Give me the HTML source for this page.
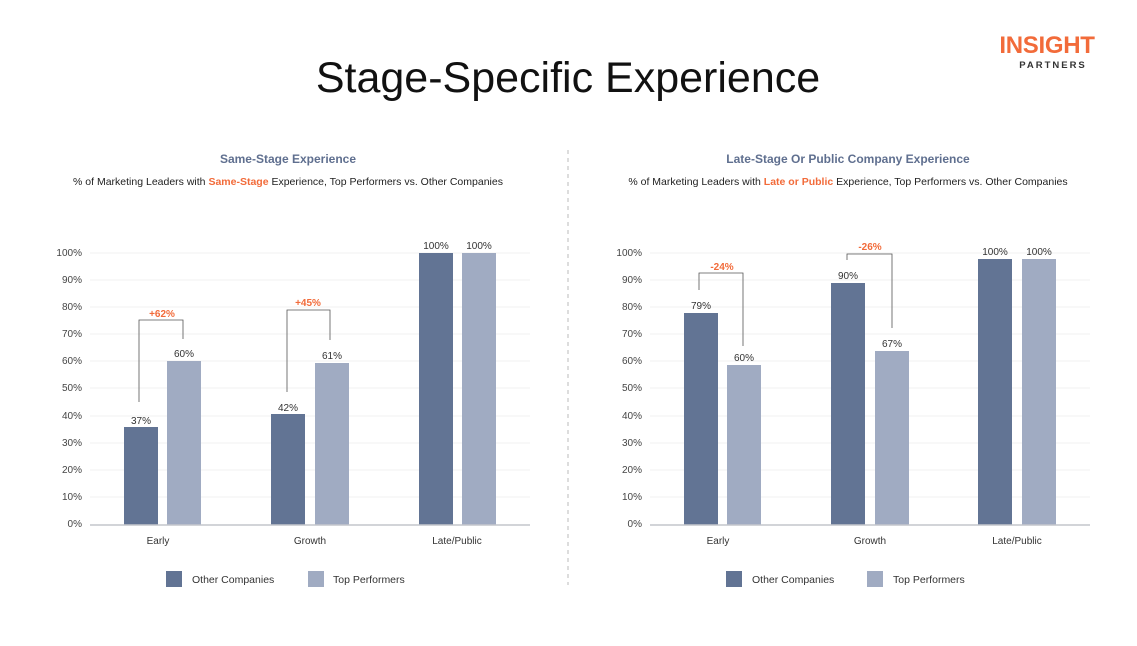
<!DOCTYPE html>
<html><head><style>
body{margin:0;background:#fff;font-family:"Liberation Sans",sans-serif;}
</style></head><body>
<svg width="1137" height="641" xmlns="http://www.w3.org/2000/svg" font-family="Liberation Sans, sans-serif">
<rect width="1137" height="641" fill="#fff"/>
<text x="568" y="92" font-size="43" text-anchor="middle" fill="#111">Stage-Specific Experience</text>
<text x="1047" y="53" font-size="24" font-weight="bold" text-anchor="middle" fill="#f26b3a" letter-spacing="-0.3">INSIGHT</text>
<text x="1053" y="68" font-size="9.5" font-weight="bold" text-anchor="middle" fill="#333" letter-spacing="2">PARTNERS</text>
<line x1="568" y1="150" x2="568" y2="585" stroke="#bbb" stroke-dasharray="4,4"/>

<g font-size="12" text-anchor="middle">
<text x="288" y="163" font-weight="bold" fill="#5f6f8f">Same-Stage Experience</text>
<text x="848" y="163" font-weight="bold" fill="#5f6f8f">Late-Stage Or Public Company Experience</text>
</g>
<g font-size="10.5" text-anchor="middle" fill="#222">
<text x="288" y="185">% of Marketing Leaders with <tspan fill="#f26b3a" font-weight="bold">Same-Stage</tspan> Experience, Top Performers vs. Other Companies</text>
<text x="848" y="185">% of Marketing Leaders with <tspan fill="#f26b3a" font-weight="bold">Late or Public</tspan> Experience, Top Performers vs. Other Companies</text>
</g>

<g stroke="#f2f2f2">
<line x1="90" x2="530" y1="253" y2="253"/><line x1="90" x2="530" y1="280" y2="280"/><line x1="90" x2="530" y1="307" y2="307"/><line x1="90" x2="530" y1="334" y2="334"/><line x1="90" x2="530" y1="361" y2="361"/><line x1="90" x2="530" y1="388" y2="388"/><line x1="90" x2="530" y1="416" y2="416"/><line x1="90" x2="530" y1="443" y2="443"/><line x1="90" x2="530" y1="470" y2="470"/><line x1="90" x2="530" y1="497" y2="497"/>
<line x1="650" x2="1090" y1="253" y2="253"/><line x1="650" x2="1090" y1="280" y2="280"/><line x1="650" x2="1090" y1="307" y2="307"/><line x1="650" x2="1090" y1="334" y2="334"/><line x1="650" x2="1090" y1="361" y2="361"/><line x1="650" x2="1090" y1="388" y2="388"/><line x1="650" x2="1090" y1="416" y2="416"/><line x1="650" x2="1090" y1="443" y2="443"/><line x1="650" x2="1090" y1="470" y2="470"/><line x1="650" x2="1090" y1="497" y2="497"/>
</g>
<g font-size="10" fill="#444" text-anchor="end">
<text x="82" y="256">100%</text><text x="82" y="283">90%</text><text x="82" y="310">80%</text><text x="82" y="337">70%</text><text x="82" y="364">60%</text><text x="82" y="391">50%</text><text x="82" y="419">40%</text><text x="82" y="446">30%</text><text x="82" y="473">20%</text><text x="82" y="500">10%</text><text x="82" y="527">0%</text>
<text x="642" y="256">100%</text><text x="642" y="283">90%</text><text x="642" y="310">80%</text><text x="642" y="337">70%</text><text x="642" y="364">60%</text><text x="642" y="391">50%</text><text x="642" y="419">40%</text><text x="642" y="446">30%</text><text x="642" y="473">20%</text><text x="642" y="500">10%</text><text x="642" y="527">0%</text>
</g>
<g fill="#627494">
<rect x="124" y="427" width="34" height="98"/><rect x="271" y="414" width="34" height="111"/><rect x="419" y="253" width="34" height="272"/>
<rect x="684" y="313" width="34" height="212"/><rect x="831" y="283" width="34" height="242"/><rect x="978" y="259" width="34" height="266"/>
</g>
<g fill="#a0abc2">
<rect x="167" y="361" width="34" height="164"/><rect x="315" y="363" width="34" height="162"/><rect x="462" y="253" width="34" height="272"/>
<rect x="727" y="365" width="34" height="160"/><rect x="875" y="351" width="34" height="174"/><rect x="1022" y="259" width="34" height="266"/>
</g>
<line x1="90" x2="530" y1="525" y2="525" stroke="#c4c6cc" stroke-width="1.5"/>
<line x1="650" x2="1090" y1="525" y2="525" stroke="#c4c6cc" stroke-width="1.5"/>
<g font-size="10" fill="#333" text-anchor="middle">
<text x="141" y="424">37%</text><text x="184" y="357">60%</text><text x="288" y="411">42%</text><text x="332" y="359">61%</text><text x="436" y="249">100%</text><text x="479" y="249">100%</text>
<text x="701" y="309">79%</text><text x="744" y="361">60%</text><text x="848" y="279">90%</text><text x="892" y="347">67%</text><text x="995" y="255">100%</text><text x="1039" y="255">100%</text>
<text x="158" y="544">Early</text><text x="310" y="544">Growth</text><text x="457" y="544">Late/Public</text>
<text x="718" y="544">Early</text><text x="870" y="544">Growth</text><text x="1017" y="544">Late/Public</text>
</g>
<g fill="none" stroke="#555" stroke-width="0.8">
<polyline points="139,402 139,320 183,320 183,339"/>
<polyline points="287,392 287,310 330,310 330,340"/>
<polyline points="699,290 699,273 743,273 743,346"/>
<polyline points="847,260 847,254 892,254 892,328"/>
</g>
<g font-size="10" font-weight="bold" fill="#f26b3a" text-anchor="middle">
<text x="162" y="317">+62%</text><text x="308" y="306">+45%</text><text x="722" y="270">-24%</text><text x="870" y="250">-26%</text>
</g>
<rect x="166" y="571" width="16" height="16" fill="#627494"/><rect x="308" y="571" width="16" height="16" fill="#a0abc2"/>
<rect x="726" y="571" width="16" height="16" fill="#627494"/><rect x="867" y="571" width="16" height="16" fill="#a0abc2"/>
<g font-size="10.5" fill="#333">
<text x="192" y="583">Other Companies</text><text x="333" y="583">Top Performers</text>
<text x="752" y="583">Other Companies</text><text x="893" y="583">Top Performers</text>
</g>
</svg>
</body></html>
